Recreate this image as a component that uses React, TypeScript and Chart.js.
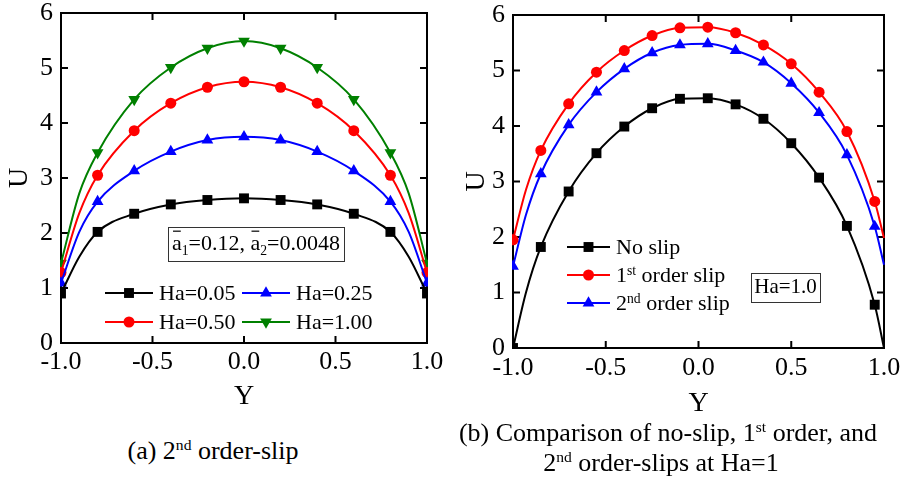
import React, { useEffect, useRef } from 'react';
import { Chart, registerables } from 'chart.js';

Chart.register(...registerables);

const SERIF = "'Liberation Serif', 'Times New Roman', Times, serif";

// ---------- panel (a): 2nd order slip, several Ha ----------
const aYMarkers = [-1.0, -0.8, -0.6, -0.4, -0.2, 0.0, 0.2, 0.4, 0.6, 0.8, 1.0];
const aHa005 = [0.90, 2.02, 2.35, 2.52, 2.60, 2.63, 2.60, 2.52, 2.35, 2.02, 0.90];
const aHa025 = [1.09, 2.57, 3.13, 3.48, 3.69, 3.75, 3.69, 3.48, 3.13, 2.57, 1.09];
const aHa050 = [1.28, 3.05, 3.86, 4.36, 4.65, 4.75, 4.65, 4.36, 3.86, 3.05, 1.28];
const aHa100 = [1.45, 3.46, 4.43, 5.01, 5.36, 5.49, 5.36, 5.01, 4.43, 3.46, 1.45];
const aYCurve = [-0.9, 0.9];
const aHa005Curve = [1.57, 1.57];
const aHa025Curve = [2.02, 2.02];
const aHa050Curve = [2.36, 2.36];
const aHa100Curve = [2.72, 2.72];
const aLabels = ['Ha=0.05', 'Ha=0.25', 'Ha=0.50', 'Ha=1.00'];

// ---------- panel (b): no slip / 1st / 2nd order slip at Ha=1 ----------
const bYMarkers = [-1.0, -0.85, -0.7, -0.55, -0.4, -0.25, -0.1, 0.05, 0.2, 0.35, 0.5, 0.65, 0.8, 0.95];
const bNoSlip = [0.0, 1.82, 2.82, 3.51, 3.99, 4.32, 4.49, 4.50, 4.39, 4.13, 3.69, 3.07, 2.20, 0.78];
const bFirst = [1.95, 3.56, 4.40, 4.97, 5.36, 5.63, 5.77, 5.78, 5.68, 5.46, 5.12, 4.61, 3.90, 2.64];
const bSecond = [1.47, 3.14, 4.02, 4.61, 5.03, 5.32, 5.46, 5.48, 5.36, 5.15, 4.77, 4.24, 3.48, 2.19];
const bYCurve = [-0.93, 1.0];
const bNoSlipCurve = [1.0, 0.0];
const bFirstCurve = [2.85, 1.98];
const bSecondCurve = [2.40, 1.50];
const bLabels = ['No slip', '1st order slip', '2nd order slip'];

const xTickValues = [-1.0, -0.5, 0.0, 0.5, 1.0];
const yTickValues = [0, 1, 2, 3, 4, 5, 6];

type Seg = { t: string; sup?: boolean; sub?: boolean; bar?: boolean };

function labelSegs(label: string): Seg[] {
  const m = label.match(/^(\d+)(st|nd|rd|th)(.*)$/);
  if (!m) return [{ t: label }];
  return [{ t: m[1] }, { t: m[2], sup: true }, { t: m[3] }];
}

function richWidth(ctx: CanvasRenderingContext2D, segs: Seg[], size: number) {
  let w = 0;
  for (const s of segs) {
    const fs = s.sup || s.sub ? size * 0.62 : size;
    ctx.font = `${fs}px ${SERIF}`;
    w += ctx.measureText(s.t).width;
  }
  return w;
}

function drawRich(ctx: CanvasRenderingContext2D, segs: Seg[], x: number, base: number, size: number) {
  ctx.textBaseline = 'alphabetic';
  ctx.textAlign = 'left';
  ctx.fillStyle = '#000';
  let cx = x;
  for (const s of segs) {
    const fs = s.sup || s.sub ? size * 0.62 : size;
    ctx.font = `${fs}px ${SERIF}`;
    const dy = s.sup ? -size * 0.36 : s.sub ? size * 0.2 : 0;
    ctx.fillText(s.t, cx, base + dy);
    const w = ctx.measureText(s.t).width;
    if (s.bar) {
      ctx.save();
      ctx.strokeStyle = '#000';
      ctx.lineWidth = 1.2;
      ctx.beginPath();
      ctx.moveTo(cx + 1, base - size * 0.86);
      ctx.lineTo(cx + w - 1, base - size * 0.86);
      ctx.stroke();
      ctx.restore();
    }
    cx += w;
  }
}

function drawMarker(ctx: CanvasRenderingContext2D, style: string, x: number, y: number, r: number, rot: number, color: string) {
  ctx.save();
  ctx.fillStyle = color;
  ctx.beginPath();
  if (style === 'rect') {
    const h = Math.SQRT1_2 * r;
    ctx.rect(x - h, y - h, 2 * h, 2 * h);
  } else if (style === 'circle') {
    ctx.arc(x, y, r, 0, Math.PI * 2);
  } else {
    let a = (rot * Math.PI) / 180;
    ctx.moveTo(x + Math.sin(a) * r, y - Math.cos(a) * r);
    a += (2 * Math.PI) / 3;
    ctx.lineTo(x + Math.sin(a) * r, y - Math.cos(a) * r);
    a += (2 * Math.PI) / 3;
    ctx.lineTo(x + Math.sin(a) * r, y - Math.cos(a) * r);
    ctx.closePath();
  }
  ctx.fill();
  ctx.restore();
}

const decor = {
  id: 'decor',
  beforeDatasetsDraw(chart: any) {
    const { ctx, chartArea: ca, scales } = chart;
    ctx.save();
    ctx.strokeStyle = '#000';
    ctx.lineWidth = 2;
    ctx.strokeRect(ca.left, ca.top, ca.right - ca.left, ca.bottom - ca.top);
    const tl = 7;
    ctx.beginPath();
    scales.x.ticks.forEach((t: any) => {
      const px = scales.x.getPixelForValue(t.value);
      ctx.moveTo(px, ca.bottom);
      ctx.lineTo(px, ca.bottom - tl);
      ctx.moveTo(px, ca.top);
      ctx.lineTo(px, ca.top + tl);
    });
    scales.y.ticks.forEach((t: any) => {
      const py = scales.y.getPixelForValue(t.value);
      ctx.moveTo(ca.left, py);
      ctx.lineTo(ca.left + tl, py);
      ctx.moveTo(ca.right, py);
      ctx.lineTo(ca.right - tl, py);
    });
    ctx.stroke();
    ctx.restore();
  },
  afterDraw(chart: any, _args: any, opts: any) {
    const { ctx } = chart;
    const L = opts.legend;
    ctx.save();
    chart.data.datasets.forEach((ds: any, i: number) => {
      const col = i % L.cols;
      const row = Math.floor(i / L.cols);
      const x0 = L.x[col];
      const y = L.y[row];
      ctx.strokeStyle = ds.borderColor;
      ctx.lineWidth = 2;
      ctx.beginPath();
      ctx.moveTo(x0, y);
      ctx.lineTo(x0 + L.len, y);
      ctx.stroke();
      drawMarker(ctx, ds.pointStyle, x0 + L.len / 2, y, ds.markerRadius, ds.pointRotation || 0, ds.borderColor);
      drawRich(ctx, labelSegs(ds.label), x0 + L.len + L.gap, y + L.size * 0.34, L.size);
    });
    const B = opts.note;
    const w = richWidth(ctx, B.segs, B.size);
    const bx = B.cx - w / 2 - B.padX;
    const by = B.cy - B.h / 2;
    ctx.strokeStyle = '#333';
    ctx.lineWidth = 1;
    ctx.strokeRect(Math.round(bx) + 0.5, Math.round(by) + 0.5, Math.round(w + 2 * B.padX), Math.round(B.h));
    drawRich(ctx, B.segs, B.cx - w / 2, B.cy + B.size * 0.3, B.size);
    ctx.restore();
  },
};

function series(label: string, color: string, style: string, rot: number, r: number, xs: number[], ys: number[], cx: number[], cy: number[]) {
  const pts = xs
    .map((x, i) => ({ x, y: ys[i], m: true }))
    .concat(cx.map((x, i) => ({ x, y: cy[i], m: false })))
    .sort((p, q) => p.x - q.x);
  return {
    label,
    data: pts,
    borderColor: color,
    backgroundColor: color,
    borderWidth: 2,
    pointStyle: style,
    pointRotation: rot,
    markerRadius: r,
    pointRadius: (c: any) => (c.raw && c.raw.m ? r : 0),
    pointHoverRadius: 0,
    pointBorderWidth: 0,
    cubicInterpolationMode: 'monotone',
    tension: 0.4,
    clip: 1,
    fill: false,
  };
}

function makeScales(p: { yWidth: number; xHeight: number; xTickPad: number; yTickPad: number; xTitlePad: number; yTitlePad: number }) {
  const tickFont = { family: SERIF, size: 26 };
  const titleFont = { family: SERIF, size: 28 };
  return {
    x: {
      type: 'linear',
      min: -1,
      max: 1,
      afterBuildTicks: (s: any) => {
        s.ticks = xTickValues.map((v) => ({ value: v }));
      },
      ticks: { font: tickFont, color: '#000', padding: p.xTickPad, autoSkip: false, maxRotation: 0, minRotation: 0, callback: (v: any) => Number(v).toFixed(1) },
      grid: { display: false, drawTicks: false },
      border: { display: false },
      title: { display: true, text: 'Y', font: titleFont, color: '#000', padding: { top: 0, bottom: p.xTitlePad } },
      afterFit: (s: any) => {
        s.height = p.xHeight;
        s.paddingLeft = 0;
        s.paddingRight = 0;
      },
    },
    y: {
      type: 'linear',
      min: 0,
      max: 6,
      afterBuildTicks: (s: any) => {
        s.ticks = yTickValues.map((v) => ({ value: v }));
      },
      ticks: { font: tickFont, color: '#000', padding: p.yTickPad, autoSkip: false, callback: (v: any) => String(v) },
      grid: { display: false, drawTicks: false },
      border: { display: false },
      title: { display: true, text: 'U', font: titleFont, color: '#000', padding: { top: p.yTitlePad, bottom: 0 } },
      afterFit: (s: any) => {
        s.width = p.yWidth;
        s.paddingTop = 0;
        s.paddingBottom = 0;
      },
    },
  };
}

function configA(): any {
  return {
    type: 'line',
    data: {
      datasets: [
        series(aLabels[0], '#000000', 'rect', 0, 7, aYMarkers, aHa005, aYCurve, aHa005Curve),
        series(aLabels[1], '#0000ff', 'triangle', 0, 6.8, aYMarkers, aHa025, aYCurve, aHa025Curve),
        series(aLabels[2], '#ff0000', 'circle', 0, 5.5, aYMarkers, aHa050, aYCurve, aHa050Curve),
        series(aLabels[3], '#008000', 'triangle', 180, 6.8, aYMarkers, aHa100, aYCurve, aHa100Curve),
      ],
    },
    options: {
      responsive: false,
      animation: false,
      layout: { padding: { left: 0, top: 13, right: 23, bottom: 0 } },
      scales: makeScales({ yWidth: 61, xHeight: 77, xTickPad: 4, yTickPad: 8, xTitlePad: 7, yTitlePad: 3 }),
      plugins: {
        legend: { display: false },
        tooltip: { enabled: false },
        decor: {
          legend: { cols: 2, x: [105, 242], y: [293, 322], len: 48, gap: 6, size: 22 },
          note: {
            segs: [
              { t: 'a', bar: true },
              { t: '1', sub: true },
              { t: '=0.12, ' },
              { t: 'a', bar: true },
              { t: '2', sub: true },
              { t: '=0.0048' },
            ],
            cx: 256,
            cy: 243.5,
            h: 34,
            padX: 4,
            size: 22,
          },
        },
      },
    },
    plugins: [decor],
  };
}

function configB(): any {
  return {
    type: 'line',
    data: {
      datasets: [
        series(bLabels[0], '#000000', 'rect', 0, 7, bYMarkers, bNoSlip, bYCurve, bNoSlipCurve),
        series(bLabels[1], '#ff0000', 'circle', 0, 5.5, bYMarkers, bFirst, bYCurve, bFirstCurve),
        series(bLabels[2], '#0000ff', 'triangle', 0, 6.8, bYMarkers, bSecond, bYCurve, bSecondCurve),
      ],
    },
    options: {
      responsive: false,
      animation: false,
      layout: { padding: { left: 0, top: 15, right: 18, bottom: 0 } },
      scales: makeScales({ yWidth: 63, xHeight: 72, xTickPad: 5, yTickPad: 8, xTitlePad: 0, yTitlePad: 10 }),
      plugins: {
        legend: { display: false },
        tooltip: { enabled: false },
        decor: {
          legend: { cols: 1, x: [117], y: [247, 275, 303], len: 43, gap: 6, size: 22 },
          note: { segs: [{ t: 'Ha=1.0' }], cx: 335.5, cy: 287, h: 29, padX: 3, size: 21 },
        },
      },
    },
    plugins: [decor],
  };
}

const supStyle: React.CSSProperties = { fontSize: '0.6em', position: 'relative', top: '-0.55em', verticalAlign: 'baseline', lineHeight: 0 };

const capStyle: React.CSSProperties = {
  position: 'absolute',
  fontFamily: SERIF,
  fontSize: 26,
  lineHeight: '30px',
  textAlign: 'center',
  whiteSpace: 'nowrap',
  color: '#000',
};

export default function App() {
  const aRef = useRef<HTMLCanvasElement>(null);
  const bRef = useRef<HTMLCanvasElement>(null);
  useEffect(() => {
    const ca = new Chart(aRef.current as HTMLCanvasElement, configA());
    const cb = new Chart(bRef.current as HTMLCanvasElement, configB());
    return () => {
      ca.destroy();
      cb.destroy();
    };
  }, []);
  return (
    <div style={{ position: 'fixed', left: 0, top: 0, width: 902, height: 479, overflow: 'hidden', background: '#fff' }}>
      <canvas ref={aRef} width={450} height={420} style={{ position: 'absolute', left: 0, top: 0, width: 450, height: 420 }} />
      <canvas ref={bRef} width={452} height={420} style={{ position: 'absolute', left: 450, top: 0, width: 452, height: 420 }} />
      <div style={{ ...capStyle, left: 13, width: 400, top: 436 }}>
        (a) 2<sup style={supStyle}>nd</sup> order-slip
      </div>
      <div style={{ ...capStyle, left: 418, width: 500, top: 418 }}>
        (b) Comparison of no-slip, 1<sup style={supStyle}>st</sup> order, and
      </div>
      <div style={{ ...capStyle, left: 411, width: 500, top: 448 }}>
        2<sup style={supStyle}>nd</sup> order-slips at Ha=1
      </div>
    </div>
  );
}
